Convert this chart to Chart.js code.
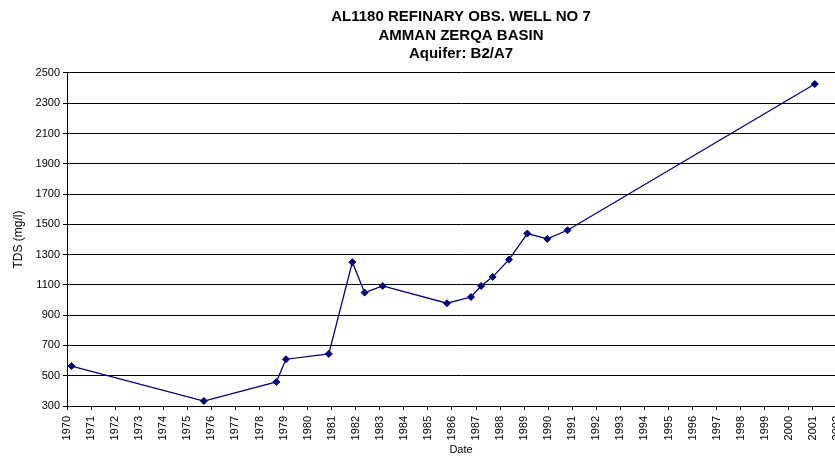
<!DOCTYPE html>
<html>
<head>
<meta charset="utf-8">
<title>AL1180 Refinary Obs. Well No 7</title>
<script src="https://cdn.jsdelivr.net/npm/chart.js@4.4.0/dist/chart.umd.min.js"></script>
<style>
  html, body { margin: 0; padding: 0; background: #fff; overflow: hidden; }
  #wrap { width: 880px; height: 457px; }
</style>
</head>
<body>
<div id="wrap"><canvas id="tdsChart" width="880" height="457"></canvas></div>
<script>
// sample dates (decimal years) and TDS readings
const sampleDates = [1970.19, 1975.69, 1978.70, 1979.10, 1980.88, 1981.86, 1982.37, 1983.12,
                     1985.79, 1986.79, 1987.21, 1987.69, 1988.37, 1989.13, 1989.96, 1990.80, 2001.08];
const tdsValues   = [564, 333, 459, 609, 644, 1250, 1049, 1093,
                     979, 1020, 1093, 1153, 1267, 1439, 1404, 1461, 2427];

const titleLines = ['AL1180 REFINARY OBS. WELL NO 7', 'AMMAN ZERQA BASIN', 'Aquifer: B2/A7'];
// the plot runs a little past the 2002 tick, off the right edge of the page
const yearMin = 1970, yearMax = 2002.75;
const tdsMin = 300, tdsMax = 2500, tdsStep = 200;

document.addEventListener('DOMContentLoaded', function () {
    const points = sampleDates.map((d, i) => ({ x: d, y: tdsValues[i] }));
    const ctx = document.getElementById('tdsChart').getContext('2d');
    new Chart(ctx, {
        type: 'line',
        data: {
            datasets: [{
                label: 'TDS',
                data: points,
                borderColor: '#000080',
                backgroundColor: '#000080',
                borderWidth: 1.3,
                pointStyle: 'rectRot',
                pointRadius: 3.5,
                pointBorderWidth: 1,
                tension: 0
            }]
        },
        options: {
            responsive: false,
            animation: false,
            layout: { padding: { left: 0, right: 25, top: 0, bottom: 0 } },
            scales: {
                x: {
                    type: 'linear',
                    min: yearMin,
                    max: yearMax,
                    afterFit: function (scale) { scale.height = 51; },
                    // keep whole years only
                    afterBuildTicks: function (scale) {
                        scale.ticks = scale.ticks.filter(t => Number.isInteger(t.value));
                    },
                    ticks: {
                        stepSize: 1,
                        autoSkip: false,
                        maxRotation: 90,
                        minRotation: 90,
                        padding: 6,
                        color: '#000',
                        font: { family: 'Liberation Sans, Arial, sans-serif', size: 11 },
                        callback: function (value) { return String(value); }
                    },
                    grid: { drawOnChartArea: false, drawTicks: true, tickLength: 4, color: '#000' },
                    border: { color: '#000', width: 1 },
                    title: {
                        display: true,
                        text: 'Date',
                        color: '#000',
                        padding: { top: 0, bottom: 0 },
                        font: { family: 'Liberation Sans, Arial, sans-serif', size: 11 }
                    }
                },
                y: {
                    min: tdsMin,
                    max: tdsMax,
                    afterFit: function (scale) { scale.width = 67; },
                    ticks: {
                        stepSize: tdsStep,
                        padding: 3,
                        color: '#000',
                        font: { family: 'Liberation Sans, Arial, sans-serif', size: 11 },
                        callback: function (value) { return String(value); }
                    },
                    grid: { color: '#000', lineWidth: 1, drawTicks: true, tickLength: 4 },
                    border: { color: '#000', width: 1 },
                    title: {
                        display: true,
                        text: 'TDS (mg/l)',
                        color: '#000',
                        padding: { top: 11, bottom: 4 },
                        font: { family: 'Liberation Sans, Arial, sans-serif', size: 12 }
                    }
                }
            },
            plugins: {
                legend: { display: false },
                tooltip: { enabled: false },
                title: {
                    display: true,
                    fullSize: false,
                    text: titleLines,
                    color: '#000',
                    padding: { top: 8, bottom: 9.5 },
                    font: { family: 'Liberation Sans, Arial, sans-serif', size: 15, weight: 'bold', lineHeight: 1.233 }
                }
            }
        }
    });
});
</script>
</body>
</html>
